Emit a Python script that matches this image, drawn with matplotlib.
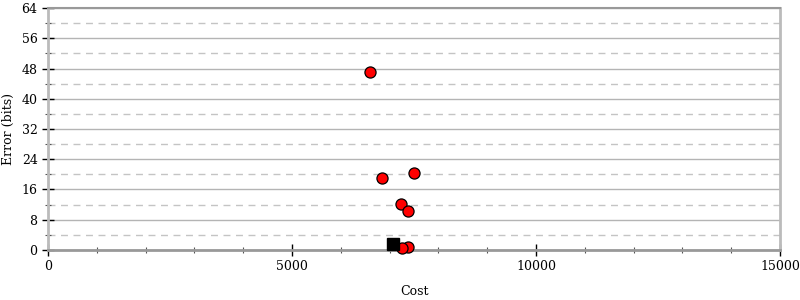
import numpy as np
import matplotlib
matplotlib.use('Agg')
import matplotlib.pyplot as plt
from matplotlib.ticker import MultipleLocator

# Points
cost = [6600, 6850, 7505, 7235, 7370, 7375, 7245]
error = [47.0, 19.0, 20.4, 12.1, 10.2, 0.8, 0.45]
best_cost = [7070]
best_error = [1.6]

plt.rcParams['font.family'] = ['DejaVu Serif']
plt.rcParams['font.size'] = 9

fig = plt.figure(figsize=(8, 3), dpi=100)
ax = fig.add_axes([0.06, 0.1667, 0.915, 0.8066])

ax.set_xlim(0, 15000)
ax.set_ylim(0, 64)

ax.xaxis.set_major_locator(MultipleLocator(5000))
ax.xaxis.set_minor_locator(MultipleLocator(1000))
ax.yaxis.set_major_locator(MultipleLocator(8))
ax.yaxis.set_minor_locator(MultipleLocator(4))

# grid: solid at major, dashed at minor
ax.grid(True, which='major', axis='y', color='#b4b4b4', lw=1, ls='-')
ax.grid(True, which='minor', axis='y', color='#c4c4c4', lw=1, ls=(0, (5, 4)))
ax.set_axisbelow(True)

ax.tick_params(which='major', direction='inout', length=8, width=1, color='black')
ax.tick_params(which='minor', direction='inout', length=5, width=0.8, color='#555555')
ax.tick_params(axis='x', which='major', pad=3)

for side in ['left', 'right']:
    ax.spines[side].set_color('#bbbbbb')
    ax.spines[side].set_linewidth(2)
ax.spines['bottom'].set_color('#999999')
ax.spines['bottom'].set_linewidth(2)
ax.spines['top'].set_color('#999999')
ax.spines['top'].set_linewidth(1.5)

ax.plot(cost, error, 'o', ms=8, mfc='red', mec='black', mew=0.9, zorder=3, clip_on=False)
ax.plot(best_cost, best_error, 's', ms=8.5, mfc='black', mec='black', zorder=4, clip_on=False)

ax.set_xlabel('Cost', labelpad=9)
ax.set_ylabel('Error (bits)', labelpad=5)

fig.savefig('out.png', dpi=100)
